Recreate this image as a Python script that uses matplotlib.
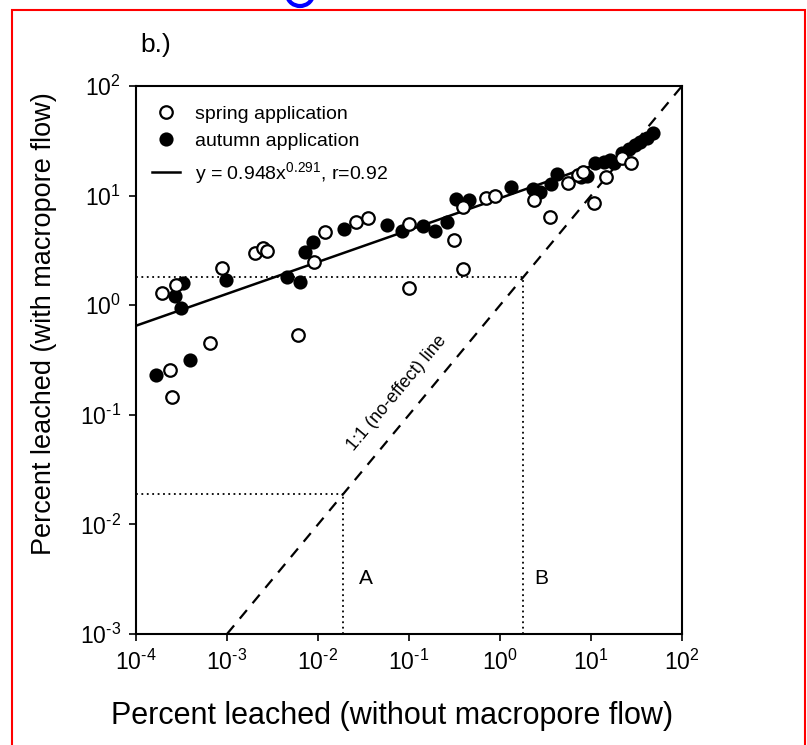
import numpy as np
import matplotlib
matplotlib.use("Agg")
import matplotlib.pyplot as plt
from matplotlib.patches import Rectangle, Arc
from matplotlib.ticker import FixedLocator, FuncFormatter, NullLocator

plt.rcParams["font.family"] = ["Liberation Sans", "DejaVu Sans"]
plt.rcParams["mathtext.fontset"] = "custom"
plt.rcParams["mathtext.rm"] = "Liberation Sans"
plt.rcParams["mathtext.it"] = "Liberation Sans:italic"
plt.rcParams["mathtext.bf"] = "Liberation Sans:bold"
plt.rcParams["axes.unicode_minus"] = False

# log10 values
spring_lx = [-3.713, -3.559, -3.052, -2.688, -2.600, -2.556, -2.049, -1.927, -1.585, -1.453,
             -1.001, -1.001, -2.225, -3.184, -3.625, -3.603, -0.505, -0.406, -0.152, -0.053,
             -0.406, 0.377, 0.752, 0.862, 0.917, 0.553, 1.028, 1.160, 1.336, 1.435]
spring_ly = [0.111, 0.184, 0.339, 0.476, 0.522, 0.495, 0.394, 0.668, 0.759, 0.796,
             0.741, 0.157, -0.272, -0.345, -0.591, -0.838, 0.595, 0.896, 0.978, 0.996,
             0.330, 0.960, 1.115, 1.188, 1.215, 0.805, 0.932, 1.170, 1.343, 1.297]

autumn_lx = [-3.482, -3.570, -3.504, -3.008, -2.346, -2.203, -2.148, -2.060, -1.718, -1.244,
             -1.078, -0.847, -0.714, -0.582, -0.483, -0.340, 0.123, 0.366, 0.443, 0.565,
             0.631, 0.961, 1.039, 1.204, 1.248, 1.413, 1.480, 1.535, 1.612, 1.678,
             1.336, -3.779, -3.405, 1.138, 0.895]
autumn_ly = [0.203, 0.084, -0.026, 0.230, 0.257, 0.212, 0.485, 0.577, 0.695, 0.732,
             0.677, 0.723, 0.677, 0.759, 0.969, 0.960, 1.078, 1.060, 1.033, 1.106,
             1.197, 1.179, 1.297, 1.325, 1.297, 1.425, 1.462, 1.489, 1.526, 1.571,
             1.389, -0.637, -0.500, 1.307, 1.170]

spring_x = 10 ** np.array(spring_lx)
spring_y = 10 ** np.array(spring_ly)
autumn_x = 10 ** np.array(autumn_lx)
autumn_y = 10 ** np.array(autumn_ly)

# regression line as drawn on the figure
FIT_A = 9.48
FIT_B = 0.291
FIT_XRANGE = [1e-4, 20.0]

# reference points A and B (where the dotted guides hit the 1:1 line)
POINT_A = 0.019
POINT_B = 1.8

X_TICKS = [1e-4, 1e-3, 1e-2, 1e-1, 1e0, 1e1, 1e2]
Y_TICKS = [1e-3, 1e-2, 1e-1, 1e0, 1e1, 1e2]


def pow10_label(v, pos):
    # hyphen-style minus like the scan
    e = int(round(np.log10(v)))
    return r"$\mathdefault{10^{\text{%d}}}$" % e


W, H = 807, 745
fig = plt.figure(figsize=(W / 100, H / 100), dpi=100)

# red frame and cut-off blue glyph of the scanned page
fig.patches.append(Rectangle((12 / W, -0.05), (805 - 12) / W, 1.05 - 10 / H,
                             transform=fig.transFigure, fill=False,
                             edgecolor="red", linewidth=1.5))
fig.patches.append(Arc((300 / W, 1 + 6 / H), 26 / W, 24 / H, theta1=190, theta2=350,
                       transform=fig.transFigure, color="blue", linewidth=3))
fig.text(140 / W, 1 - 52 / H, "b.)", fontsize=19)

ax = fig.add_axes([136 / W, 1 - 634 / H, 546 / W, 548 / H])
ax.set_xscale("log")
ax.set_yscale("log")
ax.set_xlim(1e-4, 1e2)
ax.set_ylim(1e-3, 1e2)

# 1:1 line
ax.plot([1e-3, 1e2], [1e-3, 1e2], color="black", linestyle=(0, (5, 4)), linewidth=1.6)

# dotted guides
for p in (POINT_A, POINT_B):
    ax.plot([1e-4, p], [p, p], color="black", linestyle=(0, (1, 2)), linewidth=1.3)
    ax.plot([p, p], [1e-3, p], color="black", linestyle=(0, (1, 2)), linewidth=1.3)

fx = np.logspace(np.log10(FIT_XRANGE[0]), np.log10(FIT_XRANGE[1]), 50)
line, = ax.plot(fx, FIT_A * fx ** FIT_B, color="black", linewidth=1.8)

sp, = ax.plot(spring_x, spring_y, "o", ms=9, mfc="white", mec="black", mew=1.6, zorder=4)
au, = ax.plot(autumn_x, autumn_y, "o", ms=9, mfc="black", mec="black", mew=1.2, zorder=3)

ax.legend([sp, au, line],
          ["spring application", "autumn application", r"y = 0.948x$^{0.291}$, r=0.92"],
          loc="upper left", bbox_to_anchor=(0.029, 0.965), frameon=False,
          fontsize=14, handlelength=1.45, handletextpad=0.75, labelspacing=0.5,
          borderaxespad=0, borderpad=0)

ax.text(0.074, 0.158, "1:1 (no-effect) line", rotation=50, fontsize=13,
        ha="center", va="center", rotation_mode="anchor")
ax.text(0.0335, 0.00324, "A", fontsize=15, ha="center", va="center")
ax.text(2.84, 0.00324, "B", fontsize=15, ha="center", va="center")

ax.xaxis.set_major_locator(FixedLocator(X_TICKS))
ax.yaxis.set_major_locator(FixedLocator(Y_TICKS))
ax.xaxis.set_minor_locator(NullLocator())
ax.yaxis.set_minor_locator(NullLocator())
ax.xaxis.set_major_formatter(FuncFormatter(pow10_label))
ax.yaxis.set_major_formatter(FuncFormatter(pow10_label))
ax.tick_params(labelsize=16.5, direction="out", length=5, width=1.2, pad=6)
for s in ax.spines.values():
    s.set_linewidth(1.5)

ax.set_xlabel("Percent leached (without macropore flow)", fontsize=22)
ax.set_ylabel("Percent leached (with macropore flow)", fontsize=19.5)
ax.xaxis.set_label_coords(0.469, -0.122)
ax.yaxis.set_label_coords(-0.145, 0.567)

fig.savefig("out.png", dpi=100)
